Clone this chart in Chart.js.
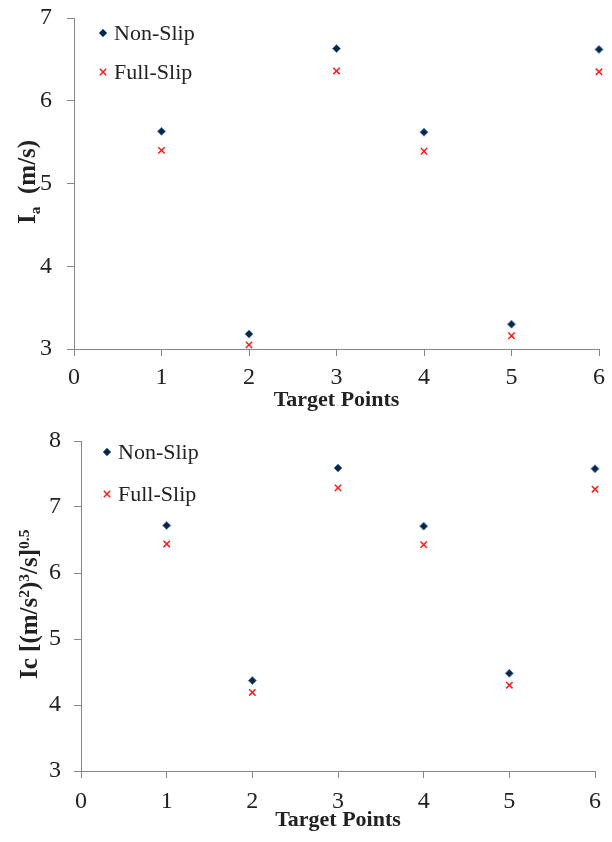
<!DOCTYPE html>
<html>
<head>
<meta charset="utf-8">
<script src="https://cdn.jsdelivr.net/npm/chart.js@4.4.0/dist/chart.umd.min.js"></script>
<style>
  body { margin: 0; background: #fff; width: 612px; height: 842px; position: relative; overflow: hidden; font-family: 'Liberation Serif', serif; }
  canvas { position: absolute; left: 0; }
  .ytitle { position: absolute; transform-origin: 0 0; transform: rotate(-90deg); white-space: nowrap; font-weight: bold; font-size: 25px; line-height: 1; color: #222; }
  .ytitle .sm { font-size: 62%; position: relative; }
</style>
</head>
<body>
<canvas id="iaChart" width="612" height="421" style="top:0"></canvas>
<canvas id="icChart" width="612" height="421" style="top:421px"></canvas>
<div class="ytitle" style="left:14px; top:224px;">I<span class="sm" style="top:0.3em">a</span>&nbsp;&nbsp;(m/s)</div>
<div class="ytitle" style="left:16px; top:679px;">Ic [(m/s<span class="sm" style="top:-0.5em">2</span>)<span class="sm" style="top:-0.5em">3</span>/s]<span class="sm" style="top:-0.5em">0.5</span></div>
<script>
// Target points on the x axis
const targetPoints = [1, 2, 3, 4, 5, 6];
const xTicks = [0, 1, 2, 3, 4, 5, 6];

// Arias intensity Ia (m/s)
const iaNonSlip = [5.63, 3.18, 6.63, 5.62, 3.30, 6.62];
const iaFullSlip = [5.40, 3.05, 6.36, 5.39, 3.16, 6.35];
const iaTicks = [3, 4, 5, 6, 7];

// Characteristic intensity Ic
const icNonSlip = [6.72, 4.37, 7.59, 6.71, 4.48, 7.58];
const icFullSlip = [6.44, 4.19, 7.29, 6.43, 4.30, 7.27];
const icTicks = [3, 4, 5, 6, 7, 8];

const axisColor = '#868686';
const textColor = '#222';
const serif = 'Liberation Serif';

// draws the legend inside the plot area, Excel style
const innerLegend = {
    id: 'innerLegend',
    afterDraw(chart, args, opts) {
        const ctx = chart.ctx;
        ctx.save();
        chart.data.datasets.forEach((ds, i) => {
            ctx.fillStyle = ds.backgroundColor;
            ctx.strokeStyle = ds.borderColor;
            ctx.lineWidth = ds.borderWidth;
            Chart.helpers.drawPoint(ctx, {
                pointStyle: ds.pointStyle,
                radius: ds.pointRadius,
                rotation: 0,
                borderWidth: ds.borderWidth
            }, opts.x, opts.y[i]);
            ctx.fillStyle = textColor;
            ctx.font = '22px "' + serif + '"';
            ctx.textBaseline = 'middle';
            ctx.textAlign = 'left';
            ctx.fillText(ds.label, opts.x + opts.gap, opts.y[i] + 1);
        });
        ctx.restore();
    }
};

function toPoints(values) {
    return targetPoints.map((x, i) => ({ x: x, y: values[i] }));
}

function makeChart(id, nonSlip, fullSlip, yTicks, box) {
    const ctx = document.getElementById(id).getContext('2d');
    return new Chart(ctx, {
        type: 'scatter',
        data: {
            datasets: [{
                label: 'Non-Slip',
                data: toPoints(nonSlip),
                pointStyle: 'rectRot',
                pointRadius: 4,
                backgroundColor: '#10253f',
                borderColor: '#4f81bd',
                borderWidth: 1,
                clip: false
            }, {
                label: 'Full-Slip',
                data: toPoints(fullSlip),
                pointStyle: 'crossRot',
                pointRadius: 4.5,
                backgroundColor: '#ff0000',
                borderColor: '#ff1a1a',
                borderWidth: 1.5,
                clip: false
            }]
        },
        options: {
            responsive: false,
            animation: false,
            devicePixelRatio: 1,
            layout: { padding: { left: 0, top: box.top, right: box.right, bottom: 0 } },
            plugins: {
                legend: { display: false },
                tooltip: { enabled: false },
                innerLegend: box.legend
            },
            scales: {
                x: {
                    type: 'linear',
                    min: xTicks[0],
                    max: xTicks[xTicks.length - 1],
                    afterBuildTicks: s => { s.ticks = xTicks.map(v => ({ value: v })); },
                    afterFit: s => {
                        s.height = box.xHeight;
                        s.paddingLeft = 0;
                        s.paddingRight = 0;
                    },
                    grid: { drawOnChartArea: false, tickLength: 7, color: axisColor },
                    border: { color: axisColor, width: 1 },
                    ticks: { color: textColor, font: { family: serif, size: 24 }, padding: box.xPad, maxRotation: 0 },
                    title: {
                        display: true,
                        text: 'Target Points',
                        color: textColor,
                        font: { family: serif, size: 22, weight: 'bold' },
                        padding: { top: 0, bottom: box.titlePad }
                    }
                },
                y: {
                    type: 'linear',
                    min: yTicks[0],
                    max: yTicks[yTicks.length - 1],
                    afterBuildTicks: s => { s.ticks = yTicks.map(v => ({ value: v })); },
                    afterFit: s => {
                        s.width = box.left;
                        s.paddingTop = 0;
                        s.paddingBottom = 0;
                    },
                    grid: { drawOnChartArea: false, tickLength: 7, color: axisColor },
                    border: { color: axisColor, width: 1 },
                    ticks: { color: textColor, font: { family: serif, size: 24 }, padding: box.yPad }
                }
            }
        },
        plugins: [innerLegend]
    });
}

makeChart('iaChart', iaNonSlip, iaFullSlip, iaTicks, {
    top: 18, right: 13, left: 74, xHeight: 72, xPad: 7, yPad: 15, titlePad: 7,
    legend: { x: 103, y: [33, 72], gap: 11 }
});
makeChart('icChart', icNonSlip, icFullSlip, icTicks, {
    top: 20, right: 17, left: 81, xHeight: 71, xPad: 9, yPad: 13, titlePad: 8,
    legend: { x: 107, y: [31, 73], gap: 11 }
});
</script>
</body>
</html>
